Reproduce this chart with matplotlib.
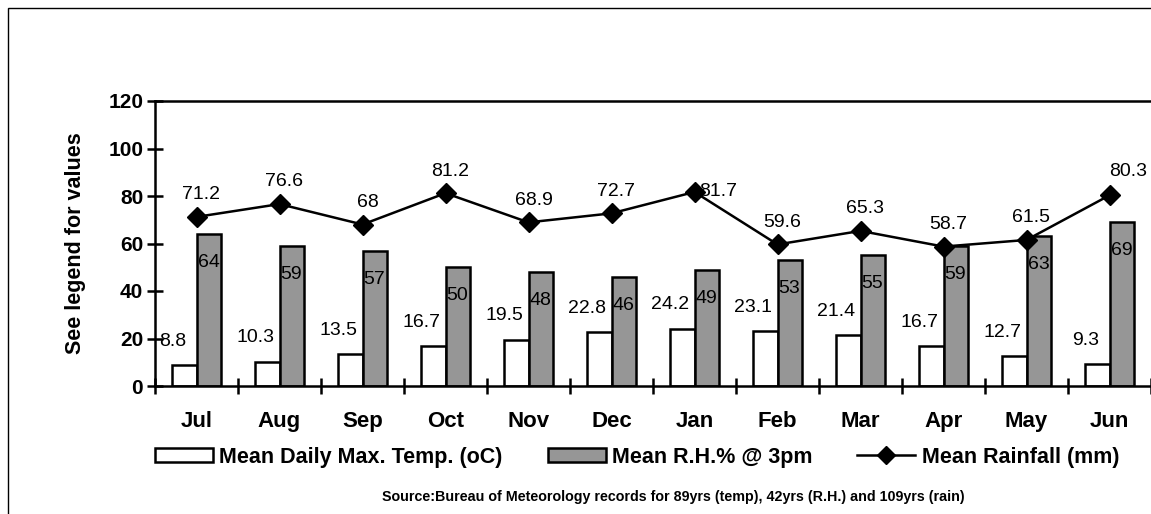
import numpy as np
import matplotlib.pyplot as plt
from matplotlib.patches import Rectangle
from matplotlib.lines import Line2D

plt.rcParams['font.family'] = ['Liberation Sans', 'DejaVu Sans']

# data
months = ['Jul', 'Aug', 'Sep', 'Oct', 'Nov', 'Dec', 'Jan', 'Feb', 'Mar', 'Apr', 'May', 'Jun']
max_temp = [8.8, 10.3, 13.5, 16.7, 19.5, 22.8, 24.2, 23.1, 21.4, 16.7, 12.7, 9.3]
rel_hum = [64, 59, 57, 50, 48, 46, 49, 53, 55, 59, 63, 69]
rainfall = [71.2, 76.6, 68, 81.2, 68.9, 72.7, 81.7, 59.6, 65.3, 58.7, 61.5, 80.3]

fig = plt.figure(figsize=(11.51, 5.14), dpi=100)
# outer chart frame (runs off the right and bottom edges)
fig.patches.append(Rectangle((8 / 1151, -0.1), 1.2, 1.1 - 8 / 514,
                             transform=fig.transFigure, fill=False,
                             edgecolor='black', linewidth=1.0))
ax = fig.add_axes([155 / 1151, 1 - 386 / 514, 1 - 155 / 1151, (386 - 101) / 514])

x = np.arange(len(months))
w = 0.29
ax.bar(x - w / 2, max_temp, w, color='white', edgecolor='black', linewidth=1.8, zorder=2)
ax.bar(x + w / 2, rel_hum, w, color='#969696', edgecolor='black', linewidth=1.8, zorder=2)
ax.plot(x, rainfall, color='black', linewidth=1.8, marker='D', markersize=10, zorder=3)

lbl = 14
for i in range(len(months)):
    ax.text(x[i] - 0.29, max_temp[i] + 10, f'{max_temp[i]:g}', ha='center', va='center', fontsize=lbl)
    ax.text(x[i] + w / 2, rel_hum[i] - 12, f'{rel_hum[i]:g}', ha='center', va='center', fontsize=lbl)
    if months[i] == 'Jan':
        ax.text(x[i] + 0.29, rainfall[i], f'{rainfall[i]:g}', ha='center', va='center', fontsize=lbl)
    elif months[i] == 'Jun':
        ax.text(x[i] + 0.22, rainfall[i] + 10, f'{rainfall[i]:g}', ha='center', va='center', fontsize=lbl)
    else:
        ax.text(x[i] + 0.06, rainfall[i] + 9.3, f'{rainfall[i]:g}', ha='center', va='center', fontsize=lbl)

ax.set_xlim(-0.5, len(months) - 0.5)
ax.set_ylim(0, 120)
ax.set_yticks(range(0, 121, 20))
ax.set_xticks(x)
ax.set_xticklabels(months, fontsize=16, fontweight='bold')
ax.set_xticks(np.arange(-0.5, len(months), 1.0), minor=True)
ax.tick_params(axis='x', which='major', length=0, pad=18)
ax.tick_params(axis='x', which='minor', length=12, width=1.8, direction='inout')
ax.tick_params(axis='y', length=11, width=1.8, direction='inout', labelsize=15, pad=3)
for lab in ax.get_yticklabels():
    lab.set_fontweight('bold')
ax.set_ylabel('See legend for values', fontsize=15.5, fontweight='bold', labelpad=16)
ax.spines['right'].set_visible(False)
for s in ['left', 'bottom', 'top']:
    ax.spines[s].set_linewidth(1.8)

handles = [Rectangle((0, 0), 1, 1, facecolor='white', edgecolor='black', linewidth=1.8),
           Rectangle((0, 0), 1, 1, facecolor='#969696', edgecolor='black', linewidth=1.8),
           Line2D([], [], color='black', linewidth=1.8, marker='D', markersize=9)]
labels = ['Mean Daily Max. Temp. (oC)', 'Mean R.H.% @ 3pm', 'Mean Rainfall (mm)']
fig.legend(handles, labels, loc='center left', bbox_to_anchor=(144 / 1151, 1 - 457 / 514), ncol=3,
           frameon=False, prop={'weight': 'bold', 'size': 15.5}, borderpad=0,
           handlelength=2.7, handleheight=0.65, handletextpad=0.28, columnspacing=2.1)

fig.text(673 / 1151, 1 - 497 / 514, 'Source:Bureau of Meteorology records for 89yrs (temp), 42yrs (R.H.) and 109yrs (rain)',
         ha='center', va='center', fontsize=10.3, fontweight='bold')

fig.savefig('out.png', dpi=100)
